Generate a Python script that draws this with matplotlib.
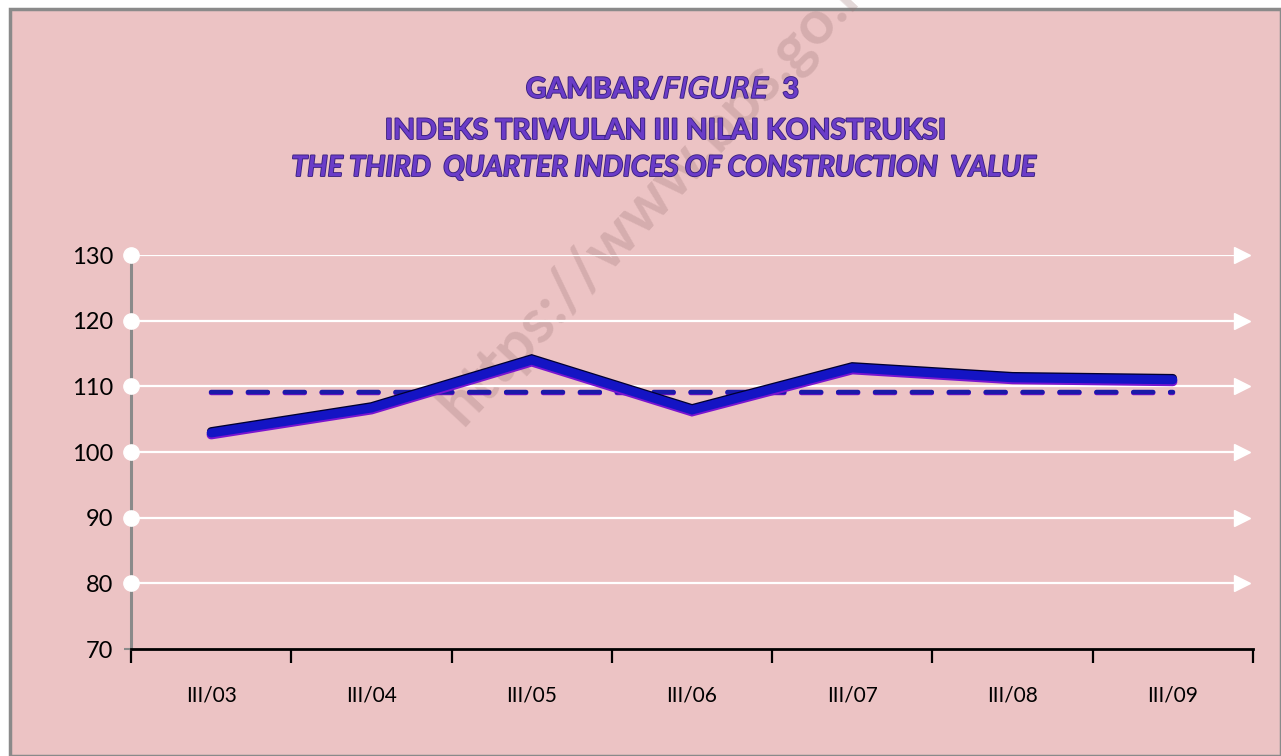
import matplotlib.pyplot as plt
import matplotlib.patheffects as pe
from matplotlib.patches import Rectangle

# Data
kuartal = ["III/03", "III/04", "III/05", "III/06", "III/07", "III/08", "III/09"]
indeks = [102.9, 106.7, 114.0, 106.4, 112.8, 111.3, 111.0]
rata_rata = [109.1] * len(kuartal)
y_ticks = [70, 80, 90, 100, 110, 120, 130]

plt.rcParams['font.family'] = ['Lato', 'DejaVu Sans']
pink = "#ecc3c4"
purple = "#6a3cc8"

fig = plt.figure(figsize=(12.81, 7.56), dpi=100)
fig.patch.set_facecolor("white")
fondo = Rectangle((10 / 1281, 0), 1 - 10 / 1281, 1 - 9 / 756,
                  transform=fig.transFigure, facecolor=pink,
                  edgecolor="#8a8a8a", linewidth=2.5, zorder=-10)
fig.add_artist(fondo)

ax = fig.add_axes([131 / 1281, 1 - 649 / 756, 1122 / 1281, (649 - 255) / 756])
ax.set_facecolor("none")
ax.set_zorder(1)
x = list(range(len(kuartal)))
ax.set_xlim(-0.5, len(kuartal) - 0.5)
ax.set_ylim(70, 130)

# Watermark
fig.text(0.515, 0.75, "https://www.bps.go.id", rotation=47, fontsize=44,
         fontweight="bold", color="#9a7474", alpha=0.28, ha="center", va="center",
         zorder=-5)

# Gridlines with arrow heads and circles at the axis
for t in y_ticks[1:]:
    ax.plot([0, 0.988], [t, t], color="white", lw=1.6, transform=ax.get_yaxis_transform(),
            zorder=2, solid_capstyle="butt")
    ax.plot([0.99], [t], marker=">", markersize=12, color="white",
            transform=ax.get_yaxis_transform(), zorder=2, clip_on=False)
    ax.plot([0], [t], marker="o", markersize=11, color="white",
            transform=ax.get_yaxis_transform(), zorder=5, clip_on=False)

# Average dashed line
ax.plot(x, rata_rata, color="#1a1aa8", lw=3.2, dashes=(4.5, 3.8),
        dash_capstyle="round", zorder=3,
        path_effects=[pe.Stroke(linewidth=3.2, foreground="#7010c8", offset=(0, -0.6)),
                      pe.Normal()])

# Index line
ax.plot(x, indeks, color="#1414c4", lw=6.5, solid_capstyle="round", solid_joinstyle="miter",
        zorder=4,
        path_effects=[pe.Stroke(linewidth=6.5, foreground="#7a14d0", offset=(0, -1.4)),
                      pe.Stroke(linewidth=6, foreground="#000030", offset=(0, 1.2)),
                      pe.Stroke(linewidth=4.5, foreground="#1414c4"),
                      pe.Normal()])

# Axes styling
for s in ["top", "right"]:
    ax.spines[s].set_visible(False)
ax.spines["left"].set_color("#8a8a8a")
ax.spines["left"].set_linewidth(2.2)
ax.spines["bottom"].set_color("black")
ax.spines["bottom"].set_linewidth(2)
ax.set_yticks(y_ticks)
ax.set_yticklabels([str(t) for t in y_ticks], fontsize=17)
ax.tick_params(axis="y", length=5, width=1.5, color="#8a8a8a", pad=8)

ax.set_xticks([i - 0.5 for i in range(len(kuartal) + 1)], minor=False)
ax.set_xticklabels([""] * (len(kuartal) + 1))
ax.tick_params(axis="x", which="major", length=10, width=1.6, color="black", direction="out")
ax.set_xticks(x, minor=True)
ax.set_xticklabels(kuartal, minor=True, fontsize=15)
ax.tick_params(axis="x", which="minor", length=0, pad=26)

# Title
judul = [
    (90, r"GAMBAR/$\it{FIGURE}$  3", "normal", 0.5175),
    (131, "INDEKS TRIWULAN III NILAI KONSTRUKSI", "normal", 0.5190),
    (168, "THE THIRD  QUARTER INDICES OF CONSTRUCTION  VALUE", "italic", 0.5185),
]
for ypix, teks, gaya, xpos in judul:
    fig.text(xpos, 1 - ypix / 756, teks, ha="center", va="center", fontsize=20.5,
             fontweight="bold", fontstyle=gaya, color=purple,
             path_effects=[pe.withStroke(linewidth=1.3, foreground="#3a2080")])

fig.savefig("out.png", dpi=100)
